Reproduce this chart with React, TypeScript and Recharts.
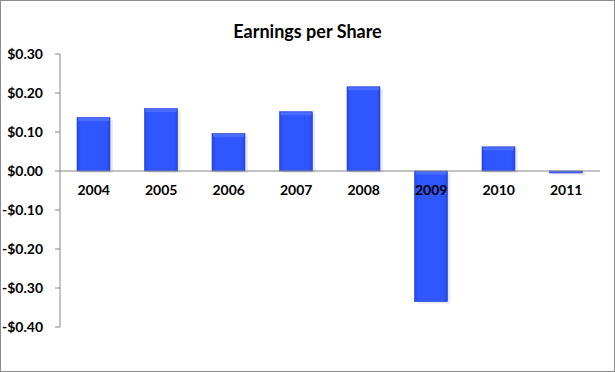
import { Bar, BarChart, ReferenceLine, XAxis, YAxis } from 'recharts';

const years = ['2004', '2005', '2006', '2007', '2008', '2009', '2010', '2011'];
const eps = [0.137, 0.16, 0.096, 0.152, 0.216, -0.335, 0.062, -0.005];
const yTicks = [-0.4, -0.3, -0.2, -0.1, 0, 0.1, 0.2, 0.3];

const chartData = years.map((year, i) => ({ year, eps: eps[i] }));

const W = 615;
const H = 372;
const TOP = 54;
const BOTTOM = 45;
const Y_MIN = -0.4;
const Y_MAX = 0.3;
const FONT = 'Lato, "Open Sans", sans-serif';

// y of the zero line inside the svg, used to hang the year labels under it
const zeroY = TOP + ((Y_MAX - 0) / (Y_MAX - Y_MIN)) * (H - TOP - BOTTOM);

const money = (v: number) => {
  const s = '$' + Math.abs(v).toFixed(2);
  return v < 0 ? '-' + s : s;
};

const renderYearTick = (props: any) => {
  const { x, payload } = props;
  return (
    <text
      key={payload.value}
      x={x}
      y={zeroY + 24}
      textAnchor="middle"
      fontFamily={FONT}
      fontWeight={700}
      fontSize={14}
      fill="#000"
    >
      {payload.value}
    </text>
  );
};

function BevelBar(props: any) {
  const { x, y, width, height } = props;
  if (!height) return null;
  const h = Math.abs(height);
  const top = height < 0 ? y + height : y;
  const bevel = Math.min(3, h / 2);
  return (
    <g>
      <rect x={x + 3} y={top + 2} width={width} height={h} fill="rgba(0,0,0,0.08)" />
      <rect x={x} y={top} width={width} height={h} fill="url(#barFill)" stroke="#1f3fd6" strokeWidth={0.6} />
      <rect x={x + 1} y={top + 0.5} width={width - 2} height={bevel} fill="#4a6dff" />
    </g>
  );
}

export default function App() {
  return (
    <div
      style={{
        position: 'absolute',
        left: 0,
        top: 0,
        width: W,
        height: H,
        boxSizing: 'border-box',
        border: '1px solid #8c8c8c',
        background: '#fff',
      }}
    >
      <div
        style={{
          position: 'absolute',
          top: 19,
          width: '100%',
          textAlign: 'center',
          fontFamily: FONT,
          fontWeight: 700,
          fontSize: 18,
          color: '#000',
          zIndex: 1,
        }}
      >
        Earnings per Share
      </div>
      <div style={{ position: 'absolute', left: -1, top: -1 }}>
        <BarChart
          width={W}
          height={H}
          data={chartData}
          margin={{ top: TOP, right: 15, bottom: BOTTOM - 1, left: 0 }}
        >
          <defs>
            <linearGradient id="barFill" x1="0" y1="0" x2="1" y2="0">
              <stop offset="0%" stopColor="#2447e8" />
              <stop offset="12%" stopColor="#2f56ff" />
              <stop offset="88%" stopColor="#2f56ff" />
              <stop offset="100%" stopColor="#2447e8" />
            </linearGradient>
          </defs>
          <XAxis
            dataKey="year"
            height={1}
            axisLine={false}
            tickLine={false}
            tick={renderYearTick}
            interval={0}
          />
          <YAxis
            width={60}
            domain={[Y_MIN, Y_MAX]}
            ticks={yTicks}
            tickFormatter={money}
            axisLine={{ stroke: '#868686' }}
            tickLine={{ stroke: '#868686' }}
            tickSize={5}
            tickMargin={12}
            tick={{ fill: '#000', fontFamily: FONT, fontWeight: 700, fontSize: 14 }}
            interval={0}
          />
          <ReferenceLine y={0} stroke="#868686" strokeWidth={1} />
          <Bar dataKey="eps" shape={<BevelBar />} isAnimationActive={false} barSize={33} />
        </BarChart>
      </div>
    </div>
  );
}
